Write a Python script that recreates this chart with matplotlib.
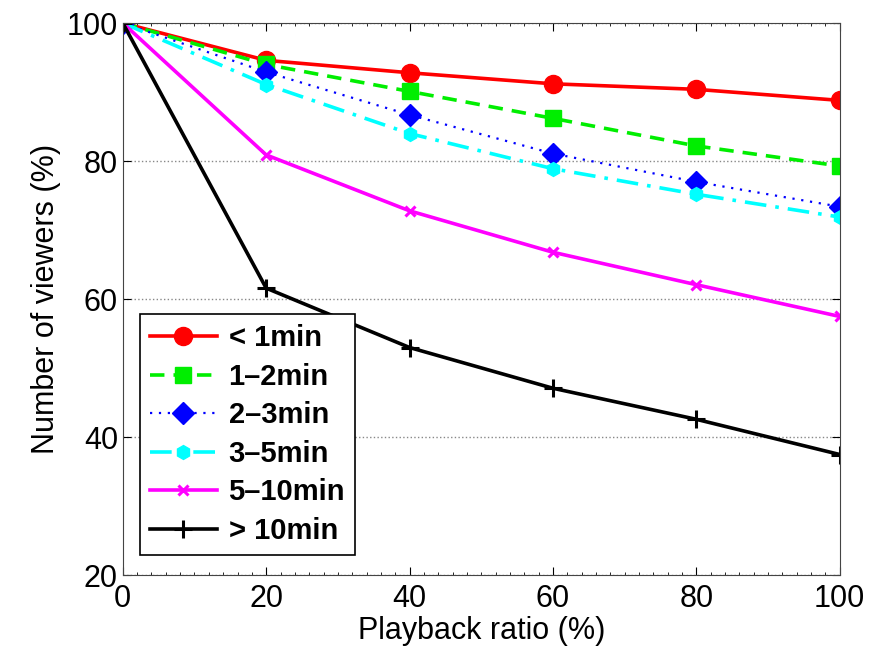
#!/usr/bin/env python3

import matplotlib
matplotlib.use('Agg')
import matplotlib.pyplot as plt
from matplotlib.ticker import MultipleLocator

ratio = [0, 20, 40, 60, 80, 100]
lt1 = [100, 94.6, 92.8, 91.2, 90.4, 88.8]
m1_2 = [100, 94.0, 90.1, 86.2, 82.2, 79.3]
m2_3 = [100, 92.9, 86.7, 81.1, 77.0, 73.4]
m3_5 = [100, 91.1, 84.0, 78.9, 75.2, 71.9]
m5_10 = [100, 80.9, 72.8, 66.8, 62.1, 57.5]
gt10 = [100, 61.6, 53.0, 47.1, 42.6, 37.5]

labels = ['< 1min', '1\u20132min', '2\u20133min', '3\u20135min', '5\u201310min', '> 10min']

plt.rcParams['font.family'] = ['Liberation Sans', 'DejaVu Sans']

fig = plt.figure(dpi=100, figsize=(8.71, 6.59))
ax = fig.add_axes([0.141, 0.127, 0.823, 0.838])

lw = 2.6
ax.plot(ratio, lt1, color='#ff0000', lw=lw, marker='o', ms=13, label=labels[0])
ax.plot(ratio, m1_2, color='#00ee00', lw=lw, ls=(0, (4, 2.5)), marker='s', ms=11, label=labels[1])
ax.plot(ratio, m2_3, color='#0000ff', lw=1.6, ls=(0, (1, 3)), marker='D', ms=11, label=labels[2])
ax.plot(ratio, m3_5, color='#00ffff', lw=lw, ls=(0, (6, 2.5, 1, 2.5)), marker='h', ms=10, label=labels[3])
ax.plot(ratio, m5_10, color='#ff00ff', lw=lw, marker='x', ms=7, mew=2.2, label=labels[4])
ax.plot(ratio, gt10, color='black', lw=lw, marker='+', ms=13, mew=2.2, label=labels[5])

ax.set_xlim(0, 100)
ax.set_ylim(20, 100)
ax.set_xticks(ratio)
ax.set_yticks([20, 40, 60, 80, 100])
ax.xaxis.set_minor_locator(MultipleLocator(2))
ax.tick_params(which='both', direction='in', top=True, right=True, labelsize=22)
ax.tick_params(which='major', length=6)
ax.tick_params(which='minor', length=2.5)
ax.tick_params(axis='x', pad=6)
ax.yaxis.grid(True, ls=':', color='#888888', lw=1)
for s in ax.spines.values():
    s.set_color('#444444')

ax.set_xlabel('Playback ratio (%)', fontsize=22, labelpad=2)
ax.set_ylabel('Number of viewers (%)', fontsize=22, labelpad=4)

leg = ax.legend(loc='lower left', bbox_to_anchor=(0.003, 0.01), fancybox=False,
                edgecolor='black', framealpha=1, prop={'weight': 'bold', 'size': 21},
                handlelength=2.3, labelspacing=0.36, borderpad=0.35, handletextpad=0.4)
leg.get_frame().set_linewidth(1.2)

plt.savefig('out.png')
